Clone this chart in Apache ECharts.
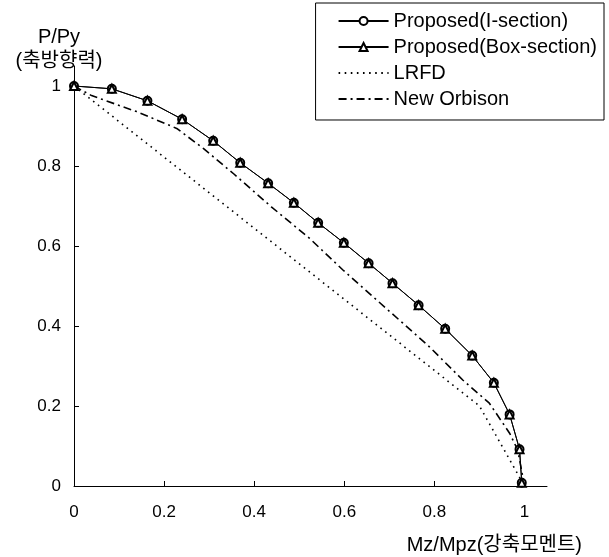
<!DOCTYPE html>
<html>
<head>
<meta charset="utf-8">
<script src="https://cdn.jsdelivr.net/npm/echarts@6/dist/echarts.min.js"></script>
<style>
  html, body { margin: 0; padding: 0; background: #fff; }
  .chart { width: 609px; height: 557px; }
</style>
</head>
<body>
<div class="chart"></div>
<script>
// 읽어낸 값 (Mz/Mpz, P/Py)
var mzProp = [0, 0.084, 0.163, 0.240, 0.309, 0.369, 0.431, 0.488, 0.542, 0.599, 0.654, 0.707, 0.765, 0.824, 0.884, 0.932, 0.967, 0.989, 0.994];
var pProp  = [1.0, 0.993, 0.963, 0.917, 0.863, 0.808, 0.757, 0.708, 0.658, 0.608, 0.557, 0.507, 0.452, 0.393, 0.326, 0.258, 0.179, 0.092, 0.008];

var mzLrfd = [0, 0.9, 1.0];
var pLrfd  = [1.0, 0.2, 0];

var mzOrb = [0, 0.039, 0.139, 0.228, 0.287, 0.355, 0.438, 0.523, 0.597, 0.664, 0.730, 0.789, 0.863, 0.922, 0.967, 0.985, 1.0];
var pOrb  = [1.0, 0.976, 0.936, 0.894, 0.844, 0.780, 0.698, 0.619, 0.540, 0.473, 0.407, 0.348, 0.265, 0.207, 0.132, 0.090, 0];

var names = ['Proposed(I-section)', 'Proposed(Box-section)', 'LRFD', 'New Orbison'];

function pairs(xs, ys) {
  return xs.map(function (x, i) { return [x, ys[i]]; });
}

var font = 'Liberation Sans, Arial, Noto Sans CJK KR, sans-serif';

var chart = echarts.init(document.querySelector('.chart'));

var option = {
  animation: false,
  grid: { left: 74, right: 62, top: 66, bottom: 71 },
  legend: {
    orient: 'vertical',
    right: 5,
    top: 3,
    data: [
      { name: names[0] },
      { name: names[1] },
      { name: names[2], itemStyle: { opacity: 0 } },
      { name: names[3], itemStyle: { opacity: 0 } }
    ],
    borderColor: '#000',
    borderWidth: 1,
    padding: [8, 7, 11, 22],
    itemWidth: 50,
    itemHeight: 10,
    itemGap: 6,
    textStyle: { fontSize: 20, color: '#000', fontFamily: font }
  },
  xAxis: {
    type: 'value',
    min: 0,
    max: 1.05,
    interval: 0.2,
    name: 'Mz/Mpz(강축모멘트)',
    nameLocation: 'end',
    nameGap: 35,
    nameTextStyle: {
      fontSize: 20, color: '#000', fontFamily: font,
      align: 'right', verticalAlign: 'top', padding: [49, 0, 0, 0]
    },
    axisLine: { lineStyle: { color: '#000', width: 1 } },
    axisTick: { inside: true, length: 5, lineStyle: { color: '#000' } },
    axisLabel: { fontSize: 17, color: '#000', fontFamily: font, margin: 18, showMaxLabel: false },
    splitLine: { show: false }
  },
  yAxis: {
    type: 'value',
    min: 0,
    max: 1.05,
    interval: 0.2,
    name: 'P/Py\n(축방향력)',
    nameLocation: 'end',
    nameGap: -7,
    nameTextStyle: {
      fontSize: 20, color: '#000', fontFamily: font, lineHeight: 24,
      align: 'center', padding: [0, 30, 0, 0]
    },
    axisLine: { show: true, lineStyle: { color: '#000', width: 1 } },
    axisTick: { show: true, inside: true, length: 5, lineStyle: { color: '#000' } },
    axisLabel: { fontSize: 17, color: '#000', fontFamily: font, margin: 13, showMaxLabel: false },
    splitLine: { show: false }
  },
  series: [
    {
      name: names[0],
      type: 'line',
      data: pairs(mzProp, pProp),
      symbol: 'emptyCircle',
      symbolSize: 8,
      itemStyle: { color: '#000', borderColor: '#000', borderWidth: 1.8 },
      lineStyle: { color: '#000', width: 1 }
    },
    {
      name: names[1],
      type: 'line',
      data: pairs(mzProp, pProp),
      symbol: 'emptyTriangle',
      symbolSize: 8,
      itemStyle: { color: '#000', borderColor: '#000', borderWidth: 1.8 },
      lineStyle: { color: '#000', width: 1 }
    },
    {
      name: names[2],
      type: 'line',
      data: pairs(mzLrfd, pLrfd),
      symbol: 'none',
      itemStyle: { color: '#000' },
      lineStyle: { color: '#000', width: 1.6, type: [1.6, 4.5] }
    },
    {
      name: names[3],
      type: 'line',
      data: pairs(mzOrb, pOrb),
      symbol: 'none',
      itemStyle: { color: '#000' },
      lineStyle: { color: '#000', width: 1.6, type: [8, 4, 2, 4] }
    }
  ]
};

chart.setOption(option);
</script>
</body>
</html>
